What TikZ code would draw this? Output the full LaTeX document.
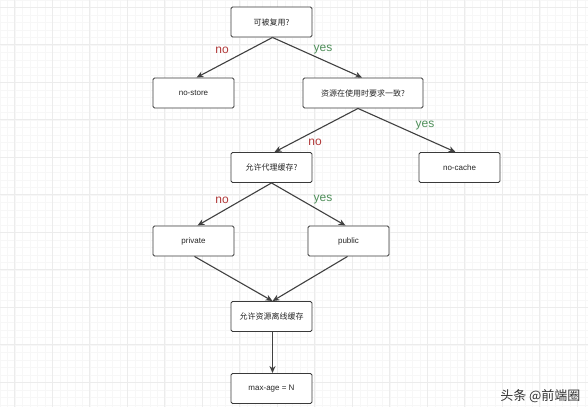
\documentclass[tikz,border=0pt]{standalone}
\usepackage{fontspec}
\setmainfont{Liberation Sans}
\newfontfamily\cjk{Noto Sans CJK SC}
\usetikzlibrary{arrows.meta}
\definecolor{boxline}{HTML}{3A3A3A}
\definecolor{arrowc}{HTML}{404040}
\definecolor{nored}{HTML}{B23A3A}
\definecolor{yesgreen}{HTML}{4F8F5A}
\definecolor{gridmajor}{HTML}{ECECEC}
\definecolor{gridminor}{HTML}{F7F7F7}
\tikzset{
  stepbox/.style={draw=boxline, line width=0.9pt, rounded corners=1.5pt, fill=white,
    minimum width=81pt, minimum height=30pt, inner sep=0pt, text=black!85, font=\fontsize{8}{9}\selectfont},
  cjkbox/.style={stepbox, font=\fontsize{8}{9}\selectfont\cjk},
  flowarrow/.style={draw=arrowc, line width=1.1pt, -{Stealth[length=7pt,width=6pt]}},
  nolabel/.style={text=nored, font=\fontsize{12}{13}\selectfont},
  yeslabel/.style={text=yesgreen, font=\fontsize{12}{13}\selectfont},
}
\begin{document}
\begin{tikzpicture}[x=1pt,y=-1pt]
\useasboundingbox (0,0) rectangle (588,407);
\fill[white] (0,0) rectangle (588,407);
% grid
\foreach \x in {0,7.5,...,588} \draw[gridminor, line width=0.4pt] (\x,0) -- (\x,407);
\foreach \y in {0,7.5,...,407} \draw[gridminor, line width=0.4pt] (0,\y) -- (588,\y);
\foreach \x in {14.5,52,...,588} \draw[gridmajor, line width=0.6pt] (\x,0) -- (\x,407);
\foreach \y in {7,44.5,...,407} \draw[gridmajor, line width=0.6pt] (0,\y) -- (588,\y);

\node[cjkbox] (reuse) at (271.5,22) {可被复用?};
\node[stepbox] (nostore) at (193.5,93) {no-store};
\node[cjkbox, minimum width=120pt] (consist) at (363,93) {资源在使用时要求一致?};
\node[cjkbox] (proxy) at (271.5,167.5) {允许代理缓存?};
\node[stepbox] (nocache) at (459.5,167.5) {no-cache};
\node[stepbox] (private) at (193.5,241) {private};
\node[stepbox] (public) at (348.5,241) {public};
\node[cjkbox] (offline) at (271.5,316.5) {允许资源离线缓存};
\node[stepbox] (maxage) at (271.5,388.5) {max-age = N};

\draw[flowarrow] ([xshift=1pt]reuse.south) -- ([xshift=3pt]nostore.north);
\draw[flowarrow] ([xshift=1pt]reuse.south) -- ([xshift=-1pt]consist.north);
\draw[flowarrow] ([xshift=-5pt]consist.south) -- ([xshift=3pt]proxy.north);
\draw[flowarrow] ([xshift=-5pt]consist.south) -- ([xshift=-4pt]nocache.north);
\draw[flowarrow] (proxy.south) -- ([xshift=4pt]private.north);
\draw[flowarrow] (proxy.south) -- ([xshift=-3pt]public.north);
\draw[flowarrow] ([xshift=1pt]private.south) -- ([xshift=1pt]offline.north);
\draw[flowarrow] ([xshift=-1pt]public.south) -- ([xshift=1pt]offline.north);
\draw[flowarrow] ([xshift=1pt]offline.south) -- ([xshift=1pt]maxage.north);

\node[nolabel] (l1) at (222,50) {no};
\node[yeslabel] (l2) at (323,50) {yes};
\node[nolabel] (l3) at (315,142) {no};
\node[yeslabel] (l4) at (425,126) {yes};
\node[nolabel] (l5) at (222,200) {no};
\node[yeslabel] (l6) at (323,200) {yes};

\node[font=\fontsize{13}{14}\selectfont\cjk, text=black!80, anchor=east] (wm) at (584,396) {头条 @前端圈};
\end{tikzpicture}
\end{document}
